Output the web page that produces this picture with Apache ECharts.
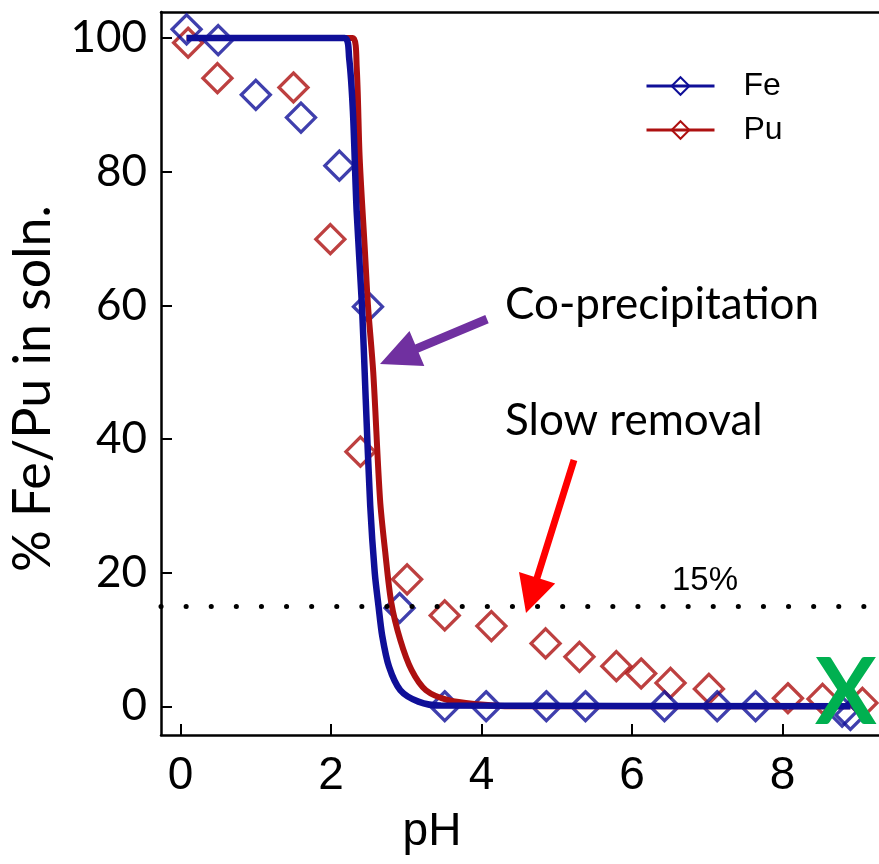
<!DOCTYPE html>
<html>
<head>
<meta charset="utf-8">
<title>Fe / Pu co-precipitation</title>
<script src="https://cdn.jsdelivr.net/npm/echarts@6/dist/echarts.min.js"></script>
<style>
  html, body { margin: 0; padding: 0; background: #fff; }
  #chart { width: 879px; height: 864px; }
</style>
</head>
<body>
<div id="chart"></div>
<script>
// measured points (diamonds)
const feScatterPH = [0.08, 0.50, 1.00, 1.60, 2.11, 2.49, 2.91, 3.51, 4.06, 4.86, 5.38, 6.43, 7.13, 7.64, 8.79, 8.90];
const feScatterPct = [101.3, 99.7, 91.5, 88.1, 80.9, 59.8, 14.7, 0, 0, 0, 0, 0, 0, 0, -0.8, -1.3];
const puScatterPH = [0.10, 0.49, 1.50, 1.99, 2.39, 3.01, 3.51, 4.13, 4.85, 5.30, 5.79, 6.12, 6.51, 7.02, 8.07, 8.53, 9.06];
const puScatterPct = [99.3, 94.0, 92.6, 69.9, 38.1, 19.0, 13.6, 12.0, 9.4, 7.4, 6.0, 4.9, 3.5, 2.6, 1.2, 1.1, 0.5];

// model curves
const feCurvePH = [0.08, 2.18, 2.24, 2.29, 2.34, 2.41, 2.46, 2.52, 2.58, 2.63, 2.68, 2.77, 2.92, 3.16, 3.46, 8.90];
const feCurvePct = [100, 100, 97, 89, 74, 60, 46, 30, 20, 15, 10.5, 5.9, 2.4, 0.7, 0.1, 0];
const puCurvePH = [0.08, 2.29, 2.34, 2.38, 2.45, 2.49, 2.56, 2.65, 2.72, 2.80, 2.92, 3.07, 3.26, 3.56, 3.95, 4.40, 8.90];
const puCurvePct = [100, 100, 95.7, 82, 68, 60, 50, 31, 23, 15.5, 9.9, 5.4, 2.4, 0.9, 0.3, 0, 0];

const xTicks = [0, 2, 4, 6, 8];
const yTicks = [0, 20, 40, 60, 80, 100];
const thresholdPct = 15;

const FE_BLUE = '#0f0f98';
const PU_RED = '#ad1010';

const pairs = (xs, ys) => xs.map((x, i) => [x, ys[i]]);

const chart = echarts.init(document.getElementById('chart'));

const axisText = { color: '#000', fontFamily: 'Liberation Sans, Arial, sans-serif', fontSize: 46 };
const diamond = (color) => ({ color: 'rgba(0,0,0,0)', borderColor: color, borderWidth: 3.3 });

chart.setOption({
  backgroundColor: '#fff',
  animation: false,
  grid: { left: 161, top: 12, right: 0, bottom: 129, outerBoundsMode: 'none' },
  legend: {
    data: ['Fe', 'Pu'],
    orient: 'vertical',
    left: 640,
    top: 65,
    itemWidth: 68,
    itemHeight: 22,
    itemGap: 12,
    lineStyle: { width: 3 },
    textStyle: { color: '#000', fontFamily: 'Liberation Sans, Arial, sans-serif', fontSize: 32, padding: [0, 0, 0, 24] }
  },
  xAxis: [{
    type: 'value',
    min: -0.26,
    max: 9.28,
    name: 'pH',
    nameLocation: 'middle',
    nameGap: 74,
    nameTextStyle: Object.assign({}, axisText, { padding: [0, 176, 0, 0] }),
    axisLine: { onZero: false, lineStyle: { color: '#000', width: 2.5 } },
    axisTick: { inside: true, length: 11, customValues: xTicks, lineStyle: { color: '#000', width: 2 } },
    axisLabel: Object.assign({}, axisText, { customValues: xTicks, margin: 18 }),
    splitLine: { show: false }
  }, {
    // top frame line only
    type: 'value',
    position: 'top',
    min: -0.26,
    max: 9.28,
    axisLine: { show: true, onZero: false, lineStyle: { color: '#000', width: 2.5 } },
    axisTick: { show: false },
    axisLabel: { show: false },
    splitLine: { show: false }
  }],
  yAxis: {
    type: 'value',
    min: -4.3,
    max: 103.9,
    name: '% Fe/Pu in soln.',
    nameLocation: 'middle',
    nameRotate: 90,
    nameGap: 92,
    nameTextStyle: { color: '#000', fontFamily: 'Lato, sans-serif', fontSize: 52, padding: [0, 30, 0, 0] },
    axisLine: { show: true, onZero: false, lineStyle: { color: '#000', width: 2.5 } },
    axisTick: { show: true, inside: true, length: 11, customValues: yTicks, lineStyle: { color: '#000', width: 2 } },
    axisLabel: { customValues: yTicks, margin: 14, color: '#000', fontFamily: 'Lato, sans-serif', fontSize: 44 },
    splitLine: { show: false }
  },
  series: [
    {
      name: 'Pu data',
      type: 'scatter',
      symbol: 'diamond',
      symbolSize: 29,
      itemStyle: diamond(PU_RED),
      data: pairs(puScatterPH, puScatterPct),
      markLine: {
        silent: true,
        symbol: 'none',
        label: { show: false },
        lineStyle: { color: '#000', width: 5, type: [0.1, 25], cap: 'round' },
        data: [{ yAxis: thresholdPct }]
      }
    },
    {
      name: 'Fe data',
      type: 'scatter',
      symbol: 'diamond',
      symbolSize: 29,
      itemStyle: diamond(FE_BLUE),
      data: pairs(feScatterPH, feScatterPct)
    },
    {
      name: 'Pu',
      type: 'line',
      symbol: 'diamond',
      showSymbol: false,
      smooth: 0.3,
      itemStyle: diamond(PU_RED),
      lineStyle: { color: PU_RED, width: 6 },
      data: pairs(puCurvePH, puCurvePct)
    },
    {
      name: 'Fe',
      type: 'line',
      symbol: 'diamond',
      showSymbol: false,
      smooth: 0.3,
      itemStyle: diamond(FE_BLUE),
      lineStyle: { color: FE_BLUE, width: 6.5 },
      data: pairs(feCurvePH, feCurvePct)
    }
  ],
  graphic: [
    { type: 'text', left: 505, top: 283, style: { text: 'Co-precipitation', fill: '#000', font: '44px Lato, sans-serif' } },
    { type: 'text', left: 505, top: 399, style: { text: 'Slow removal', fill: '#000', font: '44px Lato, sans-serif' } },
    { type: 'text', left: 672, top: 564, style: { text: '15%', fill: '#000', font: '33px "Liberation Sans", Arial, sans-serif' } },
    // purple arrow
    { type: 'polygon', shape: { points: [[488.7, 323.2], [418.6, 352.6], [424.3, 366.0], [380, 364], [409.5, 331.0], [415.2, 344.4], [485.3, 314.9]] }, style: { fill: '#7030a0' } },
    // red arrow
    { type: 'polygon', shape: { points: [[577.3, 461.0], [540.4, 578.7], [555.2, 583.4], [526, 613], [519.0, 572.0], [533.8, 576.7], [570.7, 459.0]] }, style: { fill: '#ff0000' } },
    { type: 'text', left: 815, top: 648, z: 100, style: { text: 'X', fill: '#00b050', font: 'bold 92px Lato, sans-serif' } }
  ]
});
</script>
</body>
</html>
